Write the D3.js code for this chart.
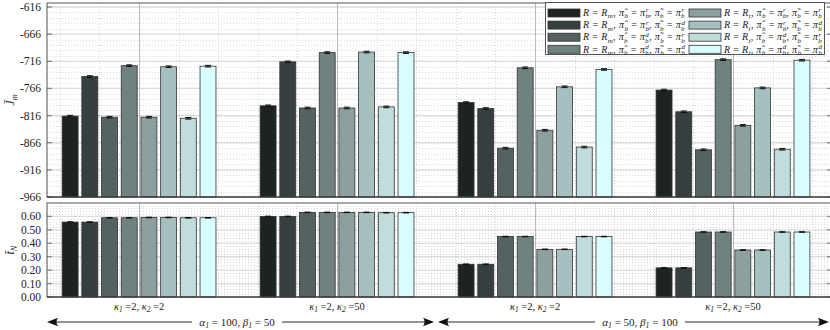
<!DOCTYPE html>
<html>
<head>
<meta charset="utf-8">
<script src="https://cdn.jsdelivr.net/npm/d3@7"></script>
<style>
  body { margin: 0; background: #fff; }
  svg { display: block; }
  text { font-family: "Liberation Serif", "DejaVu Serif", serif; fill: #222; }
</style>
</head>
<body>
<svg id="chart" width="830" height="330"></svg>
<script>
// groups along x
const groupK2 = ["2", "50", "2", "50"];
const series = ["Rm_rr", "Rm_rd", "Rm_dr", "Rm_dd", "Rt_rr", "Rt_rd", "Rt_dr", "Rt_dd"];
const colors = ["#1d2323", "#363f3f", "#546261", "#6f8280", "#8ca09f", "#a6c0bf", "#c0dcdb", "#d8fefe"];

// mean J_m per group (rows) and series (cols)
const jm = [
  [-817, -744, -819, -724, -819, -726, -821, -725],
  [-798, -717, -802, -700, -802, -699, -800, -700],
  [-792, -803, -876, -728, -843, -763, -874, -731],
  [-769, -809, -879, -713, -834, -765, -878, -714]
];
const jmErr = [
  [1.5, 1.5, 1.5, 1.5, 1.5, 1.5, 1.5, 1.5],
  [1.5, 1.5, 1.5, 1.5, 1.5, 1.5, 1.5, 1.5],
  [1.5, 1.5, 1.5, 1.5, 1.5, 1.5, 1.5, 1.5],
  [1.5, 1.5, 1.5, 1.5, 1.5, 1.5, 1.5, 1.5]
];
// mean t_N
const tn = [
  [0.558, 0.558, 0.590, 0.590, 0.592, 0.592, 0.590, 0.590],
  [0.600, 0.600, 0.630, 0.630, 0.630, 0.630, 0.628, 0.628],
  [0.244, 0.244, 0.450, 0.450, 0.355, 0.355, 0.450, 0.450],
  [0.217, 0.217, 0.484, 0.484, 0.350, 0.350, 0.484, 0.484]
];
const tnErr = [
  [0.002, 0.002, 0.002, 0.002, 0.002, 0.002, 0.002, 0.002],
  [0.002, 0.002, 0.002, 0.002, 0.002, 0.002, 0.002, 0.002],
  [0.002, 0.002, 0.002, 0.002, 0.002, 0.002, 0.002, 0.002],
  [0.002, 0.002, 0.002, 0.002, 0.002, 0.002, 0.002, 0.002]
];
const jmTicks = [-966, -916, -866, -816, -766, -716, -666, -616];
const tnTicks = [0, 0.1, 0.2, 0.3, 0.4, 0.5, 0.6];

// legend: [R subscript, hat sup, tilde sup]
const legendItems = [
  ["m", "r", "r"], ["m", "r", "d"], ["m", "d", "r"], ["m", "d", "d"],
  ["t", "r", "r"], ["t", "r", "d"], ["t", "d", "r"], ["t", "d", "d"]
];
const spans = [
  {a: "100", b: "50", from: 0.535, to: 2.49, labelAt: 1.495},
  {a: "50", b: "100", from: 2.51, to: 4.49, labelAt: 3.53}
];

const svg = d3.select("#chart");
const left = 47, right = 832;
const top1 = 3, bot1 = 197, top2 = 203, bot2 = 297;

const x = d3.scaleLinear().domain([0.535, 4.5]).range([left, right]);
const inner = d3.scaleBand().domain(series).range([-0.398, 0.398]).paddingInner(0.19).paddingOuter(0.095);
const y1 = d3.scaleLinear().domain([-966, -608.6]).range([bot1, top1]);
const y2 = d3.scaleLinear().domain([0, 0.7]).range([bot2, top2]);

function panel(yS, yTop, yBot, ticks, minorStep, fmt, data, err) {
  const g = svg.append("g");
  const d0 = yS.domain();
  // minor horizontal
  g.selectAll(".hmin").data(d3.range(d0[0], d0[1], minorStep)).join("line")
    .attr("x1", left).attr("x2", right)
    .attr("y1", d => Math.round(yS(d)) + 0.5).attr("y2", d => Math.round(yS(d)) + 0.5)
    .attr("stroke", "#c8c8c8").attr("stroke-width", 0.7).attr("stroke-dasharray", "1,2");
  // minor vertical
  g.selectAll(".vmin").data(d3.range(0.6, 4.5, 0.2).filter(v => Math.abs(v - Math.round(v)) > 0.01)).join("line")
    .attr("y1", yTop).attr("y2", yBot)
    .attr("x1", d => Math.round(x(d)) + 0.5).attr("x2", d => Math.round(x(d)) + 0.5)
    .attr("stroke", "#c8c8c8").attr("stroke-width", 0.7).attr("stroke-dasharray", "1,2");
  // major horizontal
  g.selectAll(".hmaj").data(ticks).join("line")
    .attr("x1", left).attr("x2", right)
    .attr("y1", d => yS(d)).attr("y2", d => yS(d))
    .attr("stroke", "#dcdcdc").attr("stroke-width", 1.3);
  // major vertical
  g.selectAll(".vmaj").data([1, 2, 3, 4]).join("line")
    .attr("y1", yTop).attr("y2", yBot)
    .attr("x1", d => Math.round(x(d)) + 0.5).attr("x2", d => Math.round(x(d)) + 0.5)
    .attr("stroke", "#a8a8a8").attr("stroke-width", 0.8);
  // inward ticks
  g.selectAll(".tl").data(ticks).join("line")
    .attr("x1", left).attr("x2", left + 5).attr("y1", d => yS(d)).attr("y2", d => yS(d))
    .attr("stroke", "#888").attr("stroke-width", 1.3);
  g.selectAll(".tr").data(ticks).join("line")
    .attr("x1", right - 5).attr("x2", right).attr("y1", d => yS(d)).attr("y2", d => yS(d))
    .attr("stroke", "#888").attr("stroke-width", 1.3);
  // bars
  data.forEach((row, gi) => {
    const bg = g.append("g");
    bg.selectAll("rect").data(row).join("rect")
      .attr("x", (d, i) => x(gi + 1 + inner(series[i])))
      .attr("width", x(inner.bandwidth()) - x(0))
      .attr("y", d => yS(d))
      .attr("height", d => yBot - yS(d))
      .attr("fill", (d, i) => colors[i])
      .attr("stroke", "#333").attr("stroke-width", 0.8);
    bg.selectAll(".eb").data(row).join("path")
      .attr("d", (d, i) => {
        const cx = x(gi + 1 + inner(series[i]) + inner.bandwidth() / 2);
        const e = err[gi][i];
        const ya = yS(d + e), yb = yS(d - e);
        return `M${cx - 3},${ya}H${cx + 3}M${cx},${ya}V${yb}M${cx - 3},${yb}H${cx + 3}`;
      })
      .attr("stroke", "#111").attr("stroke-width", 1).attr("fill", "none");
  });
  // frame
  g.append("rect").attr("x", left).attr("y", yTop).attr("width", right - left).attr("height", yBot - yTop)
    .attr("fill", "none").attr("stroke", "#555").attr("stroke-width", 1);
  g.append("line").attr("x1", left).attr("x2", right).attr("y1", yBot).attr("y2", yBot)
    .attr("stroke", "#333").attr("stroke-width", 1.2);
  // tick labels
  g.selectAll(".lab").data(ticks).join("text")
    .attr("x", left - 6).attr("y", d => yS(d) + 4)
    .attr("text-anchor", "end").attr("font-size", 11.5)
    .text(fmt);
}

panel(y1, top1, bot1, jmTicks, 10, d => d, jm, jmErr);
panel(y2, top2, bot2, tnTicks, 0.02, d3.format(".2f"), tn, tnErr);

// math text helper: parts = [text, kind, extra]; relative dy only (keeps one text chunk)
function math(t, size, parts) {
  let cur = 0;
  const add = (s, off, opts) => {
    const sp = t.append("tspan").attr("dy", off - cur).text(s);
    cur = off;
    Object.entries(opts || {}).forEach(([k, v]) => sp.attr(k, v));
    return sp;
  };
  parts.forEach(p => {
    const [s, kind, extra] = p;
    if (kind === "i") {
      add(s, 0, {"font-style": "italic"});
    } else if (kind === "sub") {
      add(s, size * 0.22, {"font-size": size * 0.7, "font-style": "italic"});
    } else if (kind === "ss") {
      // subscript with superscript stacked above it
      add(s, size * 0.22, {"font-size": size * 0.7, "font-style": "italic"});
      add(extra, -size * 0.38, {"font-size": size * 0.7, "font-style": "italic", "dx": -size * 0.36});
    } else {
      add(s, 0, {});
    }
  });
}

// y labels
const yl1 = svg.append("text").attr("transform", `translate(14,${(top1 + bot1) / 2}) rotate(-90)`)
  .attr("text-anchor", "middle").attr("font-size", 12);
math(yl1, 12, [["J\u0304", "i"], ["m", "sub"]]);
const yl2 = svg.append("text").attr("transform", `translate(14,${(top2 + bot2) / 2}) rotate(-90)`)
  .attr("text-anchor", "middle").attr("font-size", 12);
math(yl2, 12, [["t\u0304", "i"], ["N", "sub"]]);

// group labels
groupK2.forEach((k2, i) => {
  const t = svg.append("text").attr("x", x(i + 1)).attr("y", 310).attr("text-anchor", "middle").attr("font-size", 10.5);
  math(t, 10.5, [["κ", "i"], ["1", "sub"], [" =2, ", "n"], ["κ", "i"], ["2", "sub"], [" =" + k2, "n"]]);
});

// arrows
function head(xt, yt, dir) {
  const L = 11, W = 4.2, B = 3;
  return `M${xt},${yt}L${xt - dir * L},${yt - W}Q${xt - dir * (L - B)},${yt} ${xt - dir * L},${yt + W}Z`;
}
spans.forEach(s => {
  const ay = 322;
  const xa = x(s.from), xb = Math.min(x(s.to), 829);
  svg.append("line").attr("x1", xa + 4).attr("x2", xb - 4).attr("y1", ay).attr("y2", ay)
    .attr("stroke", "#111").attr("stroke-width", 0.9);
  svg.append("path").attr("d", head(xa, ay, -1)).attr("fill", "#111");
  svg.append("path").attr("d", head(xb, ay, 1)).attr("fill", "#111");
  const cx = x(s.labelAt);
  svg.append("rect").attr("x", cx - 45).attr("y", ay - 8).attr("width", 90).attr("height", 14).attr("fill", "#fff");
  const t = svg.append("text").attr("x", cx).attr("y", ay + 3.5).attr("text-anchor", "middle").attr("font-size", 11);
  math(t, 11, [["α", "i"], ["1", "sub"], [" = " + s.a + ", ", "n"], ["β", "i"], ["1", "sub"], [" = " + s.b, "n"]]);
});

// legend
const lg = svg.append("g");
lg.append("rect").attr("x", 545.5).attr("y", 2.5).attr("width", 279).attr("height", 52)
  .attr("fill", "#fff").attr("stroke", "#444").attr("stroke-width", 0.9);
legendItems.forEach((it, i) => {
  const col = Math.floor(i / 4), row = i % 4;
  const sx = col === 0 ? 548 : 689;
  const cy = 13 + row * 12.1;
  lg.append("rect").attr("x", sx).attr("y", cy - 4).attr("width", 32).attr("height", 8)
    .attr("fill", colors[i]).attr("stroke", "#333").attr("stroke-width", 0.8);
  const t = lg.append("text").attr("x", sx + 35).attr("y", cy + 3.2).attr("font-size", 10)
    .attr("textLength", col === 0 ? 102 : 98).attr("lengthAdjust", "spacing");
  math(t, 10, [
    ["R", "i"], [" = ", "n"], ["R", "i"], [it[0], "sub"], [", ", "n"],
    ["π\u0302", "i"], ["b", "sub"], [" = ", "n"], ["π", "i"], ["b", "ss", it[1]], [", ", "n"],
    ["π\u0303", "i"], ["b", "sub"], [" = ", "n"], ["π", "i"], ["b", "ss", it[2]]
  ]);
});
</script>
</body>
</html>
